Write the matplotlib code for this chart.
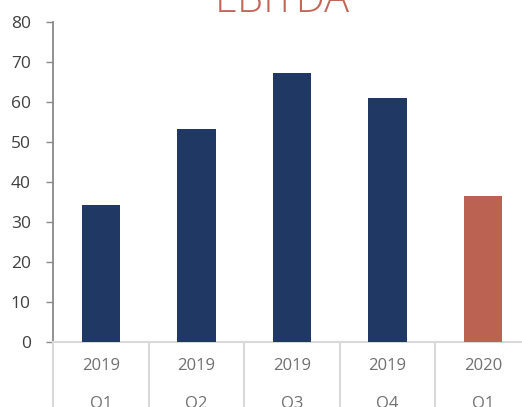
import matplotlib
matplotlib.use("Agg")
import matplotlib.pyplot as plt
from matplotlib.lines import Line2D

categories = ["2019\nQ1", "2019\nQ2", "2019\nQ3", "2019\nQ4", "2020\nQ1"]
values = [34.3, 53.3, 67.3, 60.9, 36.6]
colors = ["#203864", "#203864", "#203864", "#203864", "#BC6253"]
yticks = [0, 10, 20, 30, 40, 50, 60, 70, 80]
title = "EBITDA"

plt.rcParams['font.family'] = ['Open Sans', 'DejaVu Sans']

W, H = 522, 407
fig = plt.figure(figsize=(W / 100, H / 100), dpi=100)
left, right, bottom, top = 53, 531, 342, 22
ax = fig.add_axes([left / W, 1 - bottom / H, (right - left) / W, (bottom - top) / H])

x = list(range(len(categories)))
ax.bar(x, values, width=0.4, color=colors, zorder=3)
ax.set_xlim(-0.5, len(categories) - 0.5)
ax.set_ylim(0, 80)
ax.set_yticks(yticks)
ax.tick_params(axis='y', length=5, width=1, color='#898989', labelsize=12.5,
               labelcolor='#404040', pad=11)
ax.set_xticks([])
for s in ['top', 'right']:
    ax.spines[s].set_visible(False)
ax.spines['left'].set_color('#898989')
ax.spines['left'].set_linewidth(1.3)
ax.spines['bottom'].set_color('#d9d9d9')
ax.spines['bottom'].set_linewidth(1.5)

# category separators extending below the axis
for i in range(len(categories) + 1):
    xs = i - 0.5
    ln = Line2D([xs, xs], [0, -20], transform=ax.transData, color='#d9d9d9',
                lw=1.5, clip_on=False)
    ax.add_line(ln)

for i, lab in enumerate(categories):
    yr, q = lab.split("\n")
    ax.text(i, -6, yr, ha='center', va='center', fontsize=12, color='#707070')
    ax.text(i, -15.5, q, ha='center', va='center', fontsize=12, color='#707070')

fig.text(282.5 / W, 1 - 11.7 / H, title, ha='center', va='baseline',
         fontsize=30, color='#C0675A', fontweight='light')

fig.savefig("out.png", dpi=100)
